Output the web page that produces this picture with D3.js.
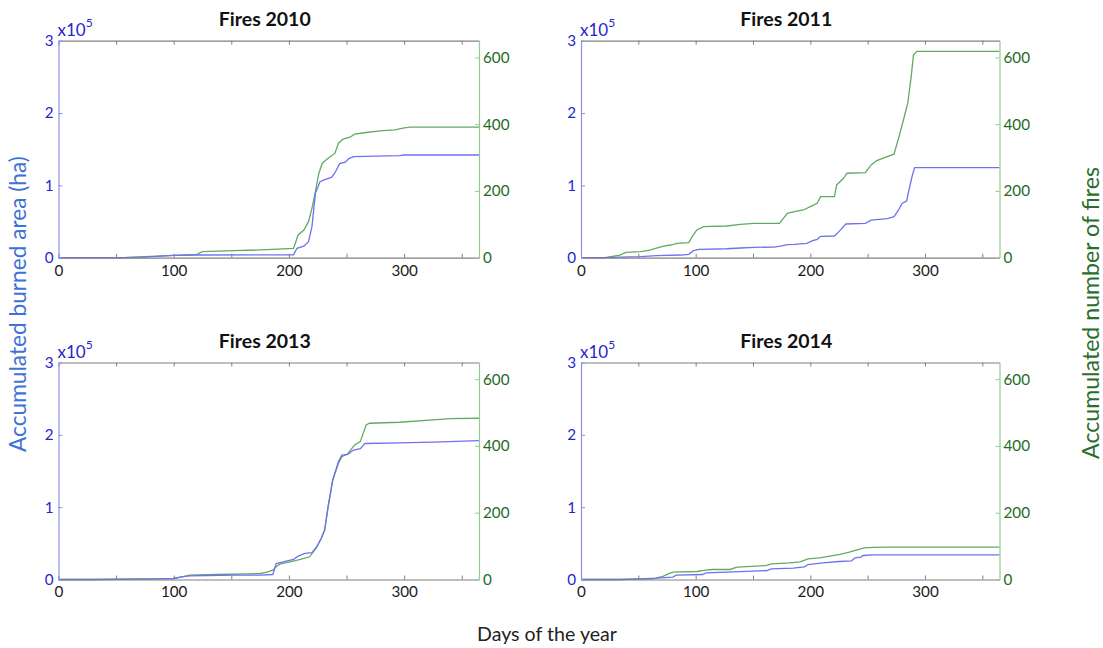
<!DOCTYPE html>
<html>
<head>
<meta charset="utf-8">
<script src="https://cdn.jsdelivr.net/npm/d3@7"></script>
<style>
  html, body { margin: 0; padding: 0; background: #ffffff; }
  svg { display: block; font-family: Lato, "Open Sans", "DejaVu Sans", sans-serif; }
</style>
</head>
<body>
<svg id="chart" width="1103" height="648"></svg>
<script>
// ---------------- DATA ----------------
const panelTitles = ["Fires 2010", "Fires 2011", "Fires 2013", "Fires 2014"];
const xTicks = [0, 50, 100, 150, 200, 250, 300, 350];
const xTickLabels = [0, 100, 200, 300];
const areaTicks = [0, 100000, 200000, 300000];
const areaTickLabels = ["0", "1", "2", "3"];
const firesTicks = [0, 200, 400, 600];

// 2010
const areaDays2010 = [0, 57, 74, 86, 100, 123, 204, 207, 213, 217, 220, 223, 227, 231, 237, 240, 244, 249, 252, 256, 296, 300, 365];
const area2010 = [0, 0, 900, 1800, 3200, 3700, 4100, 13000, 16000, 22000, 43000, 89000, 105000, 108000, 111000, 117500, 130000, 132000, 137000, 139700, 141000, 142000, 142000];
const fireDays2010 = [0, 57, 80, 100, 120, 125, 152, 181, 204, 206, 208, 213, 217, 220, 223, 226, 229, 234, 240, 243, 247, 253, 257, 267, 279, 292, 299, 305, 365];
const fires2010 = [0, 0, 4, 7, 10, 18, 21, 24, 28, 48, 68, 83, 108, 148, 198, 253, 283, 298, 313, 343, 355, 361, 370, 375, 380, 383, 388, 391, 391];

// 2011
const areaDays2011 = [0, 21, 34, 52, 66, 87, 94, 98, 103, 127, 139, 151, 168, 174, 180, 186, 197, 202, 206, 209, 221, 225, 231, 248, 253, 267, 273, 277, 280, 284, 286, 289, 291, 365];
const area2011 = [0, 0, 900, 1400, 2800, 3700, 4600, 9700, 11500, 12400, 13400, 14300, 14700, 16000, 18000, 18400, 19800, 23500, 25400, 29500, 30000, 36000, 46600, 47500, 52000, 54000, 56700, 66000, 75000, 78400, 93600, 114000, 124500, 124500];
const fireDays2011 = [0, 21, 26, 34, 39, 52, 60, 65, 72, 78, 84, 94, 97, 101, 107, 127, 139, 151, 173, 180, 186, 194, 200, 206, 209, 221, 223, 229, 232, 248, 253, 258, 267, 273, 277, 282, 285, 288, 290, 293, 365];
const fires2011 = [0, 0, 3, 8, 16, 18, 23, 28, 35, 38, 43, 45, 63, 83, 93, 95, 100, 103, 103, 133, 138, 143, 153, 163, 183, 183, 218, 238, 253, 255, 278, 291, 303, 310, 358, 423, 463, 543, 608, 618, 618];

// 2013
const areaDays2013 = [0, 33, 85, 100, 107, 114, 129, 152, 175, 186, 189, 195, 204, 208, 214, 220, 224, 228, 231, 234, 238, 243, 246, 251, 256, 262, 266, 296, 325, 365];
const area2013 = [0, 0, 900, 1400, 3700, 5000, 5500, 6000, 6000, 6900, 22000, 24400, 27700, 32300, 36000, 37000, 45000, 56700, 68000, 100000, 137000, 163000, 172000, 173000, 179000, 181000, 188000, 189000, 190000, 192000];
const fireDays2013 = [0, 33, 85, 100, 107, 114, 137, 163, 175, 181, 186, 189, 192, 201, 210, 218, 224, 228, 231, 234, 238, 243, 246, 251, 254, 257, 262, 265, 267, 270, 296, 325, 340, 365];
const fires2013 = [0, 0, 2, 3, 8, 13, 15, 17, 18, 22, 28, 38, 46, 53, 60, 68, 96, 123, 148, 218, 298, 348, 368, 376, 390, 403, 413, 443, 463, 468, 471, 478, 482, 483];

// 2014
const areaDays2014 = [0, 34, 51, 66, 80, 83, 106, 109, 133, 150, 162, 166, 185, 195, 198, 211, 225, 236, 239, 244, 246, 255, 365];
const area2014 = [0, 0, 900, 1800, 3200, 6000, 6900, 9200, 10600, 11500, 12400, 14800, 15700, 17500, 20700, 23000, 24900, 25800, 30000, 30900, 33200, 34100, 34100];
const fireDays2014 = [0, 34, 63, 72, 76, 80, 101, 109, 115, 130, 136, 153, 162, 166, 182, 191, 198, 208, 217, 226, 234, 240, 247, 255, 266, 365];
const fires2014 = [0, 0, 2, 10, 17, 22, 24, 28, 30, 30, 37, 40, 42, 47, 50, 53, 62, 65, 70, 75, 82, 88, 95, 96, 97, 97];

// ---------------- LAYOUT / STYLE ----------------
const C = {
  areaLine: "#7070f2", fireLine: "#62aa62",
  areaSpine: "#8e8ef2", fireSpine: "#8fcc8f", boxSpine: "#808080",
  areaText: "#2626cc", fireText: "#1e6b1e", xText: "#1a1a1a",
  areaLabel: "#3f72d6", fireLabel: "#2b6e2b"
};
const cols = [[58.5, 479], [581, 999.5]];
const rows = [[40.7, 257.7], [362.5, 579.5]];

const panels = [
  { title: panelTitles[0], aD: areaDays2010, a: area2010, fD: fireDays2010, f: fires2010, c: 0, r: 0 },
  { title: panelTitles[1], aD: areaDays2011, a: area2011, fD: fireDays2011, f: fires2011, c: 1, r: 0 },
  { title: panelTitles[2], aD: areaDays2013, a: area2013, fD: fireDays2013, f: fires2013, c: 0, r: 1 },
  { title: panelTitles[3], aD: areaDays2014, a: area2014, fD: fireDays2014, f: fires2014, c: 1, r: 1 }
];

const svg = d3.select("#chart");

function fitText(sel, width) {
  const node = sel.node();
  const fs = parseFloat(sel.attr("font-size"));
  const len = node.getComputedTextLength();
  if (len > 0) sel.attr("font-size", (fs * width / len).toFixed(2));
}
// measure the tick font size so that "300" is ~26.5px wide
const probe = svg.append("text").attr("font-size", 16).attr("font-family", "Lato, sans-serif").text("300");
fitText(probe, 26.5);
const tickFs = +probe.attr("font-size");
probe.remove();

panels.forEach(p => {
  const [x0, x1] = cols[p.c];
  const [y0, y1] = rows[p.r];
  const x = d3.scaleLinear().domain([0, 365]).range([x0, x1]);
  const yA = d3.scaleLinear().domain([0, 300000]).range([y1, y0]);
  const yF = d3.scaleLinear().domain([0, 650]).range([y1, y0]);
  const g = svg.append("g");

  // lines
  const aPts = p.aD.map((d, i) => [d, p.a[i]]);
  const fPts = p.fD.map((d, i) => [d, p.f[i]]);
  g.append("path").datum(fPts)
    .attr("fill", "none").attr("stroke", C.fireLine).attr("stroke-width", 1.3)
    .attr("d", d3.line().x(d => x(d[0])).y(d => yF(d[1])));
  g.append("path").datum(aPts)
    .attr("fill", "none").attr("stroke", C.areaLine).attr("stroke-width", 1.3)
    .attr("d", d3.line().x(d => x(d[0])).y(d => yA(d[1])));

  // bottom axis
  const bx = g.append("g").attr("transform", `translate(0,${y1})`)
    .call(d3.axisBottom(x).tickValues(xTicks).tickSize(-4).tickSizeOuter(0).tickPadding(7)
      .tickFormat(d => xTickLabels.includes(d) ? d : ""));
  bx.select(".domain").attr("stroke", C.boxSpine).attr("stroke-width", 1.2);
  bx.selectAll(".tick line").attr("stroke", C.boxSpine);
  bx.selectAll("text").attr("font-size", tickFs).attr("fill", C.xText).attr("font-family", "Lato, sans-serif");

  // top axis
  const tx = g.append("g").attr("transform", `translate(0,${y0})`)
    .call(d3.axisTop(x).tickValues(xTicks).tickSize(-4).tickSizeOuter(0).tickFormat(""));
  tx.select(".domain").attr("stroke", C.boxSpine).attr("stroke-width", 1.2);
  tx.selectAll(".tick line").attr("stroke", C.boxSpine);

  // left axis (area)
  const la = g.append("g").attr("transform", `translate(${x0},0)`)
    .call(d3.axisLeft(yA).tickValues(areaTicks).tickSize(-4).tickSizeOuter(0).tickPadding(5)
      .tickFormat((d, i) => areaTickLabels[i]));
  la.select(".domain").attr("stroke", C.areaSpine).attr("stroke-width", 1.2);
  la.selectAll(".tick line").attr("stroke", C.areaSpine);
  la.selectAll("text").attr("font-size", tickFs).attr("fill", C.areaText).attr("font-family", "Lato, sans-serif");

  // right axis (fires)
  const ra = g.append("g").attr("transform", `translate(${x1},0)`)
    .call(d3.axisRight(yF).tickValues(firesTicks).tickSize(-4).tickSizeOuter(0).tickPadding(4));
  ra.select(".domain").attr("stroke", C.fireSpine).attr("stroke-width", 1.2);
  ra.selectAll(".tick line").attr("stroke", C.fireSpine);
  ra.selectAll("text").attr("font-size", tickFs).attr("fill", C.fireText).attr("font-family", "Lato, sans-serif");

  // exponent label
  const ex = g.append("text").attr("x", x0 - 1).attr("y", y0 - 4.5)
    .attr("font-size", 17).attr("fill", C.areaText);
  ex.append("tspan").text("x10");
  ex.append("tspan").attr("dy", -9).attr("font-size", 12).text("5");

  // title
  const t = g.append("text").attr("x", (x0 + x1) / 2 - 4).attr("y", y0 - 15)
    .attr("text-anchor", "middle").attr("font-weight", "bold").attr("font-size", 20)
    .attr("fill", "#111").text(p.title);
  fitText(t, 92);
});

// axis titles
const yl = svg.append("text").attr("transform", "translate(26,304) rotate(-90)")
  .attr("text-anchor", "middle").attr("font-size", 18).attr("fill", C.areaLabel)
  .text("Accumulated burned area (ha)");
fitText(yl, 296);

const yr = svg.append("text").attr("transform", "translate(1099,313) rotate(-90)")
  .attr("text-anchor", "middle").attr("font-size", 18).attr("fill", C.fireLabel)
  .text("Accumulated number of fires");
fitText(yr, 292);

const xl = svg.append("text").attr("x", 547).attr("y", 641)
  .attr("text-anchor", "middle").attr("font-size", 16).attr("fill", "#222")
  .text("Days of the year");
fitText(xl, 140);
</script>
</body>
</html>
